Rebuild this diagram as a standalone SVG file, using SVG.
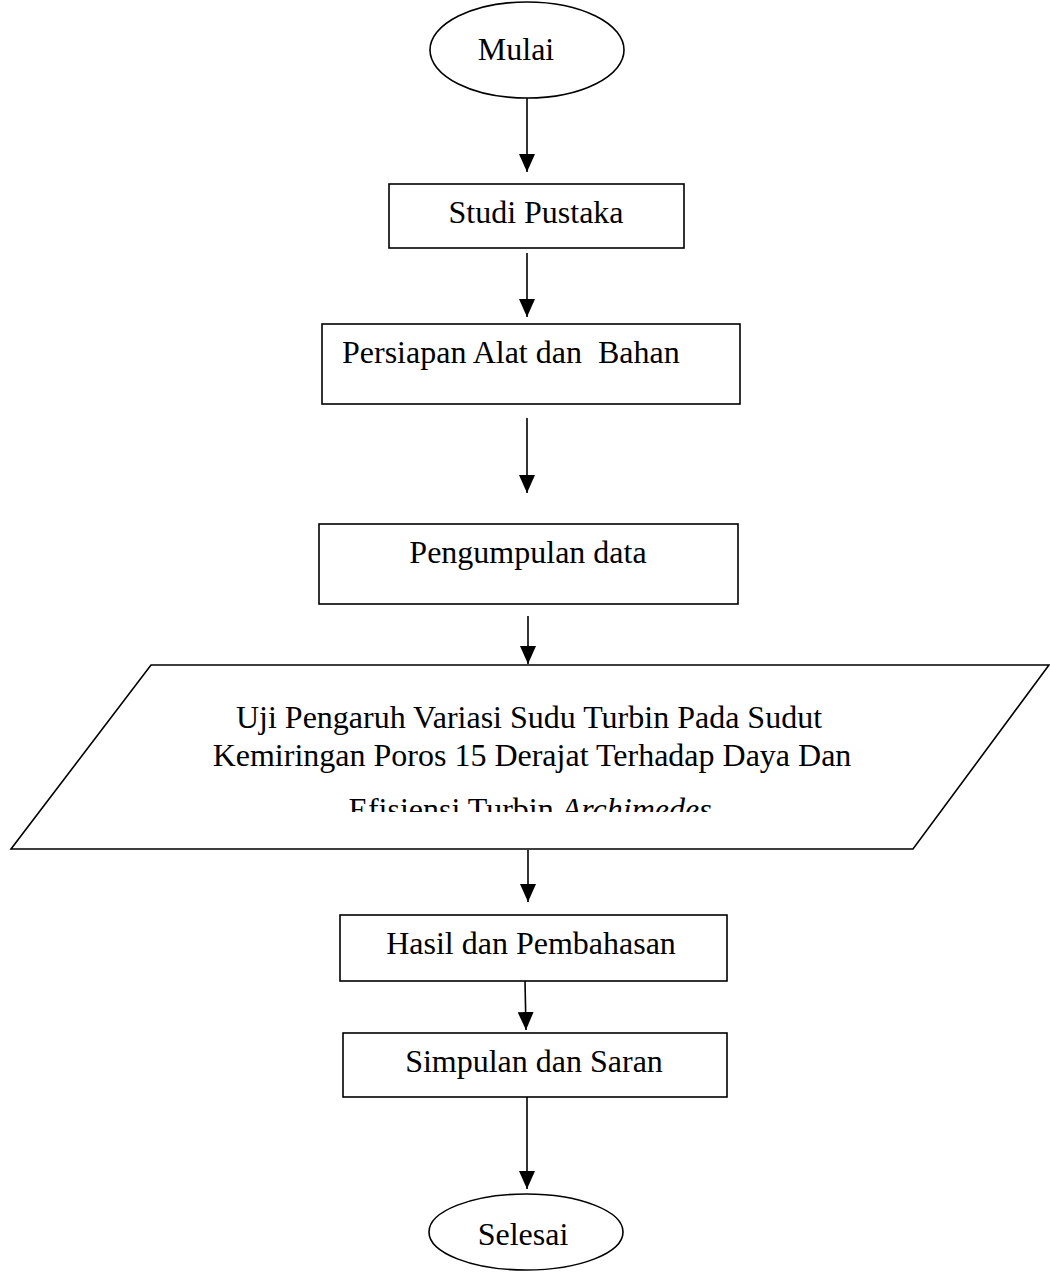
<svg xmlns="http://www.w3.org/2000/svg" width="1050" height="1272" viewBox="0 0 1050 1272">
<style>
.s{fill:#fff;stroke:#000;stroke-width:1.6}
.t{font-family:"Liberation Serif","Times New Roman",serif;font-size:32px;fill:#000}
.c{text-anchor:middle}
.k{stroke:#000;stroke-width:1.6;fill:none}
</style>
<defs>
<marker id="ah" markerUnits="userSpaceOnUse" markerWidth="18" markerHeight="16" viewBox="0 0 18 16" refX="18" refY="8" orient="auto">
<path d="M0,0 L18,8 L0,16 z" fill="#000"/>
</marker>
<clipPath id="clipP"><rect x="0" y="665" width="1050" height="147"/></clipPath>
</defs>
<rect width="1050" height="1272" fill="#fff"/>
<g id="connectors">
<line class="k" x1="527" y1="98" x2="527" y2="172" marker-end="url(#ah)"/>
<line class="k" x1="527" y1="253" x2="527" y2="317" marker-end="url(#ah)"/>
<line class="k" x1="527" y1="418" x2="527" y2="493" marker-end="url(#ah)"/>
<line class="k" x1="528" y1="616" x2="528" y2="664" marker-end="url(#ah)"/>
<line class="k" x1="528" y1="850" x2="528" y2="902" marker-end="url(#ah)"/>
<line class="k" x1="525" y1="981" x2="526" y2="1030" marker-end="url(#ah)"/>
<line class="k" x1="527" y1="1097" x2="527" y2="1189" marker-end="url(#ah)"/>
</g>
<g id="mulai">
<ellipse class="s" cx="527" cy="50" rx="97" ry="48"/>
<text class="t c" x="516" y="60">Mulai</text>
</g>
<g id="studi">
<rect class="s" x="389" y="184" width="295" height="64"/>
<text class="t c" x="536" y="223">Studi Pustaka</text>
</g>
<g id="persiapan">
<rect class="s" x="322" y="324" width="418" height="80"/>
<text class="t" x="342" y="363" style="white-space:pre">Persiapan Alat dan  Bahan</text>
</g>
<g id="pengumpulan">
<rect class="s" x="319" y="524" width="419" height="80"/>
<text class="t c" x="528" y="563">Pengumpulan data</text>
</g>
<g id="uji">
<polygon class="s" points="151,665 1049,665 913,849 11,849"/>
<g clip-path="url(#clipP)">
<text class="t c" x="529" y="728">Uji Pengaruh Variasi Sudu Turbin Pada Sudut</text>
<text class="t c" x="532" y="766">Kemiringan Poros 15 Derajat Terhadap Daya Dan</text>
<text class="t c" x="530" y="820">Efisiensi Turbin <tspan font-style="italic">Archimedes</tspan></text>
</g>
</g>
<g id="hasil">
<rect class="s" x="340" y="915" width="387" height="66"/>
<text class="t c" x="531" y="954">Hasil dan Pembahasan</text>
</g>
<g id="simpulan">
<rect class="s" x="343" y="1033" width="384" height="64"/>
<text class="t c" x="534" y="1072">Simpulan dan Saran</text>
</g>
<g id="selesai">
<ellipse class="s" cx="526" cy="1232" rx="97" ry="38"/>
<text class="t c" x="523" y="1245">Selesai</text>
</g>
</svg>
